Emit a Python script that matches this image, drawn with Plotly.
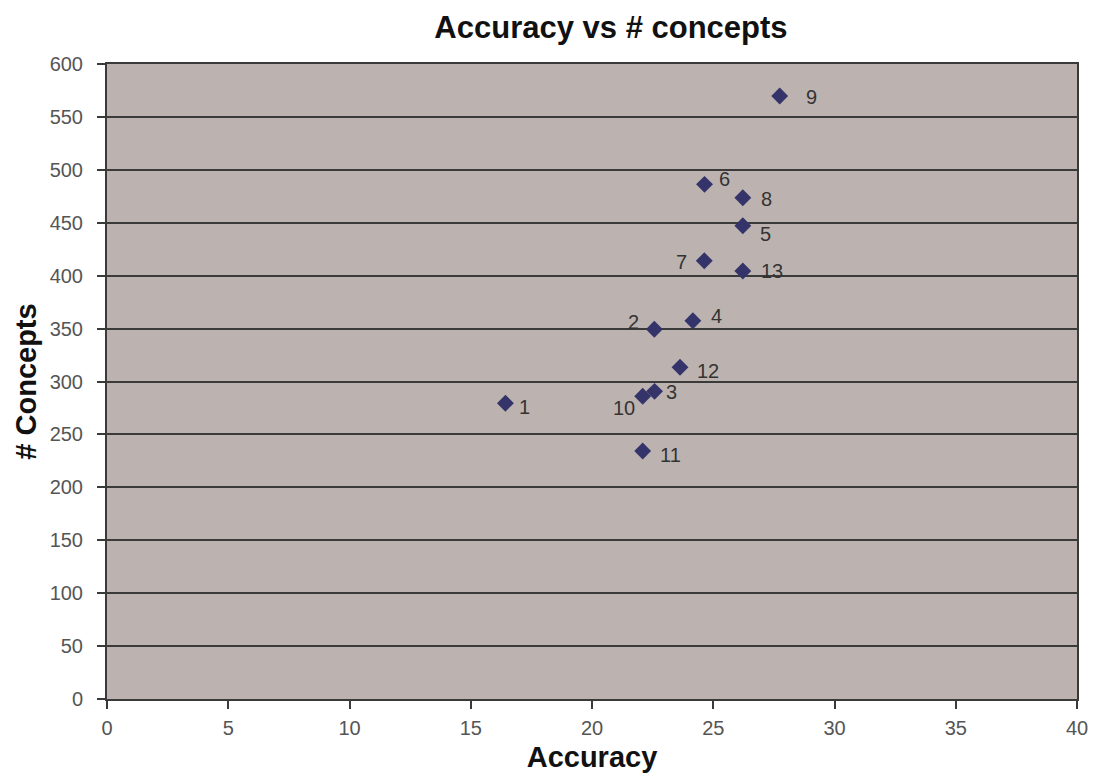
import plotly.graph_objects as go

labels = ["1", "2", "3", "4", "5", "6", "7", "8", "9", "10", "11", "12", "13"]
accuracy = [16.43, 22.57, 22.58, 24.16, 26.22, 24.64, 24.63, 26.22, 27.74, 22.09, 22.09, 23.63, 26.22]
concepts = [279.5, 349.3, 290.7, 357.4, 447.2, 486.3, 414.1, 473.6, 569.8, 286.0, 234.4, 313.4, 404.4]
# label offsets in pixels (dx, dy) relative to marker
label_dx = [19, -21, 17, 24, 23, 20, -23, 24, 32, -19, 28, 28, 29]
label_dy = [4, -7, 1, -5, 8, -5, 1, 1, 1, 12, 4, 4, 0]

FONT = "Liberation Sans, Arial, sans-serif"

fig = go.Figure()
fig.add_trace(go.Scatter(
    x=accuracy, y=concepts, mode="markers",
    marker=dict(symbol="diamond", size=13, color="#34346a", line=dict(width=0)),
    showlegend=False, hoverinfo="x+y",
))

for lab, xv, yv, dx, dy in zip(labels, accuracy, concepts, label_dx, label_dy):
    fig.add_annotation(
        x=xv, y=yv, text=lab, showarrow=False,
        xshift=dx, yshift=-dy,
        font=dict(family=FONT, size=20, color="#333333"),
    )

fig.update_layout(
    width=1093, height=775,
    margin=dict(l=107, r=16, t=64, b=76, autoexpand=False),
    paper_bgcolor="white",
    plot_bgcolor="#bcb3b0",
    title=dict(text="<b>Accuracy vs # concepts</b>", x=0.559, xanchor="center",
               y=0.965, yanchor="middle",
               font=dict(family=FONT, size=31, color="#111111")),
    font=dict(family=FONT),
)

fig.update_xaxes(
    range=[0, 40], tick0=0, dtick=5, showgrid=False, zeroline=False,
    showline=True, linecolor="#3a3a3a", linewidth=2, mirror=True,
    ticks="outside", ticklen=8, tickcolor="#3a3a3a", tickwidth=2,
    ticklabelstandoff=2,
    tickfont=dict(family=FONT, size=20, color="#555555"),
    title=dict(text="<b>Accuracy</b>", font=dict(family=FONT, size=29, color="#111111"), standoff=9),
)
fig.update_yaxes(
    range=[0, 600], tick0=0, dtick=50, showgrid=True, gridcolor="#3a3a3a", gridwidth=2,
    zeroline=False,
    showline=True, linecolor="#3a3a3a", linewidth=2, mirror=True,
    ticks="outside", ticklen=8, tickcolor="#3a3a3a", tickwidth=2,
    ticklabelstandoff=10,
    tickfont=dict(family=FONT, size=20, color="#555555"),
    title=dict(text="<b># Concepts</b>", font=dict(family=FONT, size=29, color="#111111"), standoff=4),
)

fig.write_html("out.html")
